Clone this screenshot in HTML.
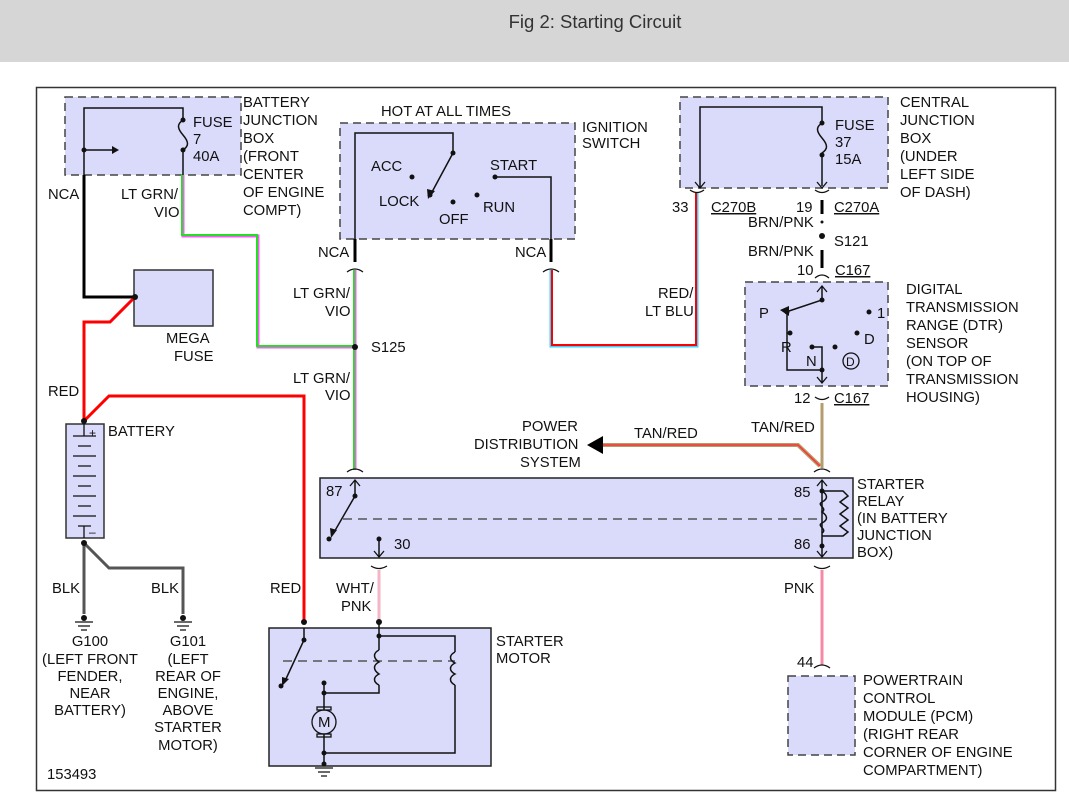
<!DOCTYPE html>
<html><head><meta charset="utf-8"><style>
body{margin:0;background:#fff;width:1069px;height:797px;overflow:hidden}
svg text{font-family:"Liberation Sans",sans-serif;font-size:14.8px;fill:#111}
</style></head><body>
<svg width="1069" height="797" viewBox="0 0 1069 797" xmlns="http://www.w3.org/2000/svg">
<rect x="0" y="0" width="1069" height="62" fill="#d6d6d6"/>
<text x="595" y="28" text-anchor="middle" style="font-size:18.5px;fill:#333">Fig 2: Starting Circuit</text>
<rect x="36.5" y="87.5" width="1019" height="703" fill="none" stroke="#333" stroke-width="1.5"/>

<g fill="#dadafa" stroke="#444" stroke-width="1.5">
<rect x="65" y="97" width="176" height="78" stroke-dasharray="8,5"/>
<rect x="340" y="123" width="235" height="116" stroke-dasharray="8,5"/>
<rect x="680" y="97" width="208" height="91" stroke-dasharray="8,5"/>
<rect x="745" y="282" width="143" height="104" stroke-dasharray="8,5"/>
<rect x="788" y="676" width="67" height="79" stroke-dasharray="8,5"/>
<rect x="134" y="270" width="79" height="56" stroke="#333"/>
<rect x="66" y="424" width="38" height="114" stroke="#333"/>
<rect x="320" y="478" width="533" height="80" stroke="#222"/>
<rect x="269" y="628" width="222" height="138" stroke="#222"/>
</g>

<g fill="none" stroke-linejoin="miter">
<path d="M84 175V297H135" stroke="#000" stroke-width="3"/>
<path d="M135 297L110 322H84V421" stroke="#f00" stroke-width="3"/>
<path d="M84 421L109 396H304V622" stroke="#f00" stroke-width="3"/>
<path d="M183 175V236H258V347H355" stroke="#ff55ff" stroke-width="3"/>
<path d="M183 175V236H258V347H355" stroke="#22e022" stroke-width="2" transform="translate(-1,-1)"/>
<path d="M355 270V470" stroke="#ff55ff" stroke-width="3"/>
<path d="M354 270V470" stroke="#22e022" stroke-width="2"/>
<path d="M551 270V346H697V193" stroke="#3ad0ff" stroke-width="3"/>
<path d="M552 270V345H696V193" stroke="#f00" stroke-width="2"/>
<path d="M822 403V468" stroke="#b59c6e" stroke-width="3"/>
<path d="M820 466L798 445H600" stroke="#b59c6e" stroke-width="4"/>
<path d="M820 466L798 445H600" stroke="#f33" stroke-width="1.5"/>
<path d="M379 570V622" stroke="#f4b6c6" stroke-width="3"/>
<path d="M822 570V665" stroke="#f58aa6" stroke-width="3"/>
<path d="M84 543V614M84 543L109 568H183V614" stroke="#555" stroke-width="3"/>
<path d="M355 239V262M551 239V262M822 200V214M822 250V268" stroke="#000" stroke-width="3"/>
</g>
<polygon points="587,445 603,436 603,454" fill="#000"/>

<g fill="none" stroke="#111" stroke-width="1.5">
<path d="M84 175V108H183V120M183 150V175"/>
<path d="M183 120c-6 4-6 8 0 15s6 11 0 15"/>
<path d="M84 150H112"/>
<path d="M355 239V133H453V153L432 192"/>
<path d="M495 177H551V239"/>
<path d="M700 188V107H822V123M822 155V186"/>
<path d="M822 123c-6 4-6 8 0 15s6 11 0 15"/>
<path d="M822 286V300L789 311M787 312V370H822M812 347H822V383"/>
<path d="M355 481V496L333 534"/>
<path d="M379 541V556"/>
<path d="M343 519H820" stroke-dasharray="9,6" stroke="#555"/>
<path d="M822 481V556M822 491H843l5 5-8 6 8 6-8 6 8 6-8 6 8 6-5 4H822"/>
<path d="M822 491c6 4 6 8 0 11s6 6 0 10c6 4 6 8 0 11s6 6 0 10" />
<path d="M304 628V640L285 681"/>
<path d="M283 661H455" stroke-dasharray="9,6" stroke="#555"/>
<path d="M379 622V636H455V652M455 685V753H324V764M379 636V650M379 685V693H324V710M324 734V753M324 683V693"/>
<path d="M379 650c-6 3-6 8 0 12c-6 3-6 8 0 12c-6 3-6 8 0 11"/>
<path d="M455 652c-6 3-6 8 0 11c-6 3-6 8 0 11c-6 3-6 8 0 11"/>
</g>
<g fill="#111">
<polygon points="112,146 119,150 112,154"/>
<polygon points="428,199 427,189 435,191"/>
<polygon points="780,310 789,306 789,316"/>
<polygon points="331,538 330,528 337,530"/>
<polygon points="282,686 282,677 289,679"/>
<circle cx="183" cy="120" r="2.5"/><circle cx="183" cy="150" r="2.5"/><circle cx="84" cy="150" r="2.5"/>
<circle cx="135" cy="297" r="3"/><circle cx="84" cy="421" r="3"/><circle cx="84" cy="543" r="3"/>
<circle cx="355" cy="347" r="3"/><circle cx="304" cy="622" r="3"/><circle cx="379" cy="622" r="3"/>
<circle cx="453" cy="153" r="2.5"/><circle cx="412" cy="177" r="2.5"/><circle cx="430" cy="195" r="2.5"/><circle cx="453" cy="202" r="2.5"/><circle cx="477" cy="195" r="2.5"/><circle cx="495" cy="177" r="2.5"/>
<circle cx="822" cy="123" r="2.5"/><circle cx="822" cy="155" r="2.5"/><circle cx="822" cy="222" r="1.5"/><circle cx="822" cy="236" r="3"/>
<circle cx="822" cy="300" r="2.5"/><circle cx="787" cy="312" r="2.5"/><circle cx="869" cy="312" r="2.5"/><circle cx="790" cy="333" r="2.5"/><circle cx="857" cy="333" r="2.5"/><circle cx="812" cy="347" r="2.5"/><circle cx="835" cy="347" r="2.5"/><circle cx="822" cy="370" r="2.5"/>
<circle cx="355" cy="496" r="2.5"/><circle cx="329" cy="539" r="2.5"/><circle cx="379" cy="539" r="2.5"/><circle cx="822" cy="491" r="2.5"/><circle cx="822" cy="546" r="2.5"/>
<circle cx="304" cy="640" r="2.5"/><circle cx="281" cy="686" r="2.5"/><circle cx="379" cy="636" r="2.5"/><circle cx="324" cy="683" r="2.5"/><circle cx="324" cy="693" r="2.5"/><circle cx="324" cy="753" r="2.5"/><circle cx="324" cy="764" r="2.5"/>
<circle cx="84" cy="618" r="3"/><circle cx="183" cy="618" r="3"/>
</g>
<g fill="none" stroke="#111" stroke-width="1.3">
<path d="M347 272q8-6 16 0M543 272q8-6 16 0M690 190q7 5 14 0M815 190q7 5 14 0M815 278q7-6 14 0M815 397q7 5 14 0M347 472q8-6 16 0M814 472q8-6 16 0M371 566q8 5 16 0M814 566q8 5 16 0M814 668q8-6 16 0"/>
<path d="M350 486l5-6 5 6M817 486l5-6 5 6M817 551l5 6 5-6M374 551l5 6 5-6M695 182l5 6 5-6M817 182l5 6 5-6M817 292l5-6 5 6M817 377l5 6 5-6"/>
<circle cx="851" cy="361" r="8"/>
<circle cx="324" cy="722" r="12"/>
<rect x="317" y="707" width="14" height="3"/><rect x="317" y="734" width="14" height="3"/>
<path d="M84 424V436M84 526V538M73 436h23M78 446h13M73 456h23M78 466h13M73 476h23M78 486h13M73 496h23M78 506h13M73 516h23M78 526h13"/>
<path d="M75 622h18M78 626h12M81 630h6M174 622h18M177 626h12M180 630h6M315 768h18M318 772h12M321 776h6"/>
</g>
<text x="318" y="727" style="font-size:15px">M</text>
<text x="846" y="366" style="font-size:12px">D</text>
<text x="89" y="437" style="font-size:12px">+</text><text x="89" y="536" style="font-size:12px">–</text>

<text x="193" y="127">FUSE</text><text x="193" y="144">7</text><text x="193" y="161">40A</text>
<text x="243" y="107">BATTERY</text><text x="243" y="125">JUNCTION</text><text x="243" y="143">BOX</text><text x="243" y="161">(FRONT</text><text x="243" y="179">CENTER</text><text x="243" y="197">OF ENGINE</text><text x="243" y="215">COMPT)</text>
<text x="48" y="199">NCA</text><text x="121" y="199">LT GRN/</text><text x="154" y="217">VIO</text>
<text x="166" y="343">MEGA</text><text x="174" y="361">FUSE</text>
<text x="48" y="396">RED</text><text x="108" y="436">BATTERY</text>
<text x="52" y="593">BLK</text><text x="151" y="593">BLK</text>
<g text-anchor="middle"><text x="90" y="646">G100</text><text x="90" y="664">(LEFT FRONT</text><text x="90" y="681">FENDER,</text><text x="90" y="698">NEAR</text><text x="90" y="715">BATTERY)</text>
<text x="188" y="646">G101</text><text x="188" y="664">(LEFT</text><text x="188" y="681">REAR OF</text><text x="188" y="698">ENGINE,</text><text x="188" y="715">ABOVE</text><text x="188" y="732">STARTER</text><text x="188" y="750">MOTOR)</text></g>
<text x="47" y="779">153493</text>
<text x="381" y="116">HOT AT ALL TIMES</text>
<text x="582" y="132">IGNITION</text><text x="582" y="148">SWITCH</text>
<text x="371" y="171">ACC</text><text x="379" y="206">LOCK</text><text x="439" y="224">OFF</text><text x="483" y="212">RUN</text><text x="490" y="170">START</text>
<text x="318" y="257">NCA</text><text x="515" y="257">NCA</text>
<text x="293" y="298">LT GRN/</text><text x="325" y="316">VIO</text>
<text x="371" y="352">S125</text>
<text x="293" y="383">LT GRN/</text><text x="325" y="400">VIO</text>
<text x="835" y="130">FUSE</text><text x="835" y="147">37</text><text x="835" y="164">15A</text>
<text x="900" y="107">CENTRAL</text><text x="900" y="125">JUNCTION</text><text x="900" y="143">BOX</text><text x="900" y="161">(UNDER</text><text x="900" y="179">LEFT SIDE</text><text x="900" y="197">OF DASH)</text>
<text x="672" y="212">33</text><text x="711" y="212" text-decoration="underline">C270B</text>
<text x="796" y="212">19</text><text x="834" y="212" text-decoration="underline">C270A</text>
<text x="748" y="227">BRN/PNK</text><text x="834" y="246">S121</text><text x="748" y="256">BRN/PNK</text>
<text x="797" y="275">10</text><text x="835" y="275" text-decoration="underline">C167</text>
<text x="906" y="294">DIGITAL</text><text x="906" y="312">TRANSMISSION</text><text x="906" y="330">RANGE (DTR)</text><text x="906" y="348">SENSOR</text><text x="906" y="366">(ON TOP OF</text><text x="906" y="384">TRANSMISSION</text><text x="906" y="402">HOUSING)</text>
<text x="759" y="318">P</text><text x="877" y="318">1</text><text x="781" y="352">R</text><text x="864" y="344">D</text><text x="806" y="366">N</text>
<text x="794" y="403">12</text><text x="834" y="403" text-decoration="underline">C167</text>
<text x="658" y="298">RED/</text><text x="645" y="316">LT BLU</text>
<text x="522" y="431">POWER</text><text x="474" y="449">DISTRIBUTION</text><text x="520" y="467">SYSTEM</text>
<text x="634" y="438">TAN/RED</text><text x="751" y="432">TAN/RED</text>
<text x="326" y="496">87</text><text x="394" y="549">30</text><text x="794" y="497">85</text><text x="794" y="549">86</text>
<text x="857" y="489">STARTER</text><text x="857" y="506">RELAY</text><text x="857" y="523">(IN BATTERY</text><text x="857" y="540">JUNCTION</text><text x="857" y="557">BOX)</text>
<text x="270" y="593">RED</text><text x="336" y="593">WHT/</text><text x="341" y="611">PNK</text><text x="784" y="593">PNK</text>
<text x="496" y="646">STARTER</text><text x="496" y="663">MOTOR</text>
<text x="797" y="667">44</text>
<text x="863" y="685">POWERTRAIN</text><text x="863" y="703">CONTROL</text><text x="863" y="721">MODULE (PCM)</text><text x="863" y="739">(RIGHT REAR</text><text x="863" y="757">CORNER OF ENGINE</text><text x="863" y="775">COMPARTMENT)</text>
</svg>
</body></html>
